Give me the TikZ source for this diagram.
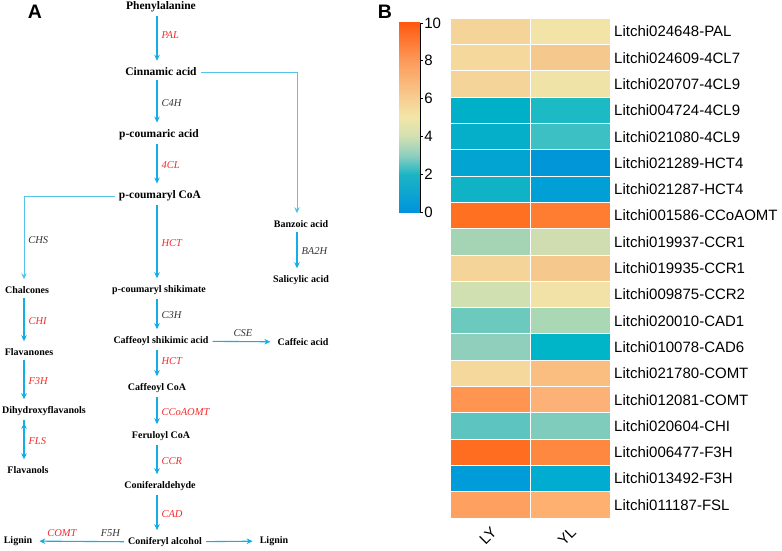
\documentclass[tikz,border=0pt]{standalone}
\usepackage{fontspec}
\setmainfont{Liberation Serif}
\newfontfamily\arialfont{Liberation Sans}
\usetikzlibrary{arrows.meta, calc}

\definecolor{flowblue}{HTML}{14AEE6}
\definecolor{branchblue}{HTML}{55C3EA}
\definecolor{enzred}{HTML}{F52A2A}
\definecolor{enzgray}{HTML}{333333}
% colour bar stops
\definecolor{hb0}{HTML}{0094DC}
\definecolor{hb2}{HTML}{1CB5C4}
\definecolor{hb3}{HTML}{8FCFC0}
\definecolor{hb4}{HTML}{D2E0B2}
\definecolor{hb5}{HTML}{F2E6A8}
\definecolor{hb6}{HTML}{F7CE92}
\definecolor{hb8}{HTML}{FC9A5A}
\definecolor{hb10}{HTML}{FF5A10}
\pgfdeclareverticalshading{heatbar}{100bp}{color(0bp)=(hb0); color(25bp)=(hb0);
  color(35bp)=(hb2); color(40bp)=(hb3); color(45bp)=(hb4); color(50bp)=(hb5);
  color(55bp)=(hb6); color(65bp)=(hb8); color(75bp)=(hb10); color(100bp)=(hb10)}

\begin{document}
\begin{tikzpicture}[x=1pt,y=-1pt,
  cpd/.style={font=\bfseries\fontsize{10}{11}\selectfont, inner sep=2pt},
  bigcpd/.style={cpd, font=\bfseries\fontsize{11.5}{12}\selectfont},
  enz/.style={font=\itshape\fontsize{10.5}{11}\selectfont, text=enzgray, inner sep=4pt},
  enzr/.style={enz, text=enzred},
  flow/.style={-{Stealth[length=6pt,width=5.5pt]}, draw=flowblue, line width=1.1pt, shorten >=5pt, shorten <=2pt},
  branch/.style={flow, draw=branchblue, line width=0.8pt},
  gene/.style={font=\arialfont\fontsize{15}{16}\selectfont, inner sep=2pt},
  panel/.style={font=\arialfont\bfseries\fontsize{19.5}{20}\selectfont}]
  \useasboundingbox (0,0) rectangle (782,551);

  % panel A: pathway
  \node[panel] (labA) at (35,12) {A};
  \coordinate (spine) at (157,0);
  \coordinate (fcol) at (24,0);
  \coordinate (bcol) at (297,0);
  \node[bigcpd] (phe) at (161,7) {Phenylalanine};
  \node[bigcpd] (cin) at (161,72) {Cinnamic acid};
  \node[bigcpd] (pcou) at (159,135) {p-coumaric acid};
  \node[bigcpd] (pcoa) at (160,196) {p-coumaryl CoA};
  \node[cpd] (ban) at (301,224) {Banzoic acid};
  \node[cpd] (sal) at (301,280) {Salicylic acid};
  \node[cpd] (chal) at (27,290) {Chalcones};
  \node[cpd] (pshik) at (159,290) {p-coumaryl shikimate};
  \node[cpd] (flavn) at (29,352) {Flavanones};
  \node[cpd] (dihyd) at (44,411) {Dihydroxyflavanols};
  \node[cpd] (flavl) at (28,470) {Flavanols};
  \node[cpd] (caffs) at (161,341) {Caffeoyl shikimic acid};
  \node[cpd] (caffa) at (303,342) {Caffeic acid};
  \node[cpd] (caffcoa) at (157,388) {Caffeoyl CoA};
  \node[cpd] (ferc) at (161,436) {Feruloyl CoA};
  \node[cpd] (conald) at (160,486) {Coniferaldehyde};
  \node[cpd] (conalc) at (165,542) {Coniferyl alcohol};
  \node[cpd] (lig1) at (18,541) {Lignin};
  \node[cpd] (lig2) at (274,541) {Lignin};

  \path[flow]
    (phe.south -| spine) edge node[enzr,right,pos=0.4] {PAL} (cin.north -| spine)
    (cin.south -| spine) edge node[enz,right] {C4H} (pcou.north -| spine)
    (pcou.south -| spine) edge node[enzr,right] {4CL} (pcoa.north -| spine)
    (pcoa.south -| spine) edge node[enzr,right] {HCT} (pshik.north -| spine)
    (pshik.south -| spine) edge node[enz,right] {C3H} (caffs.north -| spine)
    (caffs.south -| spine) edge node[enzr,right,pos=0.4] {HCT} (caffcoa.north -| spine)
    (caffcoa.south -| spine) edge node[enzr,right] {CCoAOMT} (ferc.north -| spine)
    (ferc.south -| spine) edge node[enzr,right] {CCR} (conald.north -| spine)
    (conald.south -| spine) edge node[enzr,right] {CAD} (conalc.north -| spine)
    (ban.south -| bcol) edge node[enz,right] {BA2H} (sal.north -| bcol)
    (chal.south -| fcol) edge node[enzr,right] {CHI} (flavn.north -| fcol)
    (flavn.south -| fcol) edge node[enzr,right] {F3H} (dihyd.north -| fcol)
    (dihyd.south -| fcol) edge node[enzr,right] {FLS} (flavl.north -| fcol)
    (caffs) edge node[enz,above] {CSE} (caffa)
    (conalc) edge node[enzr,above,pos=0.7] {COMT} node[enz,above,pos=0.17] {F5H} (lig1)
    (conalc) edge (lig2);
  \draw[branch] (cin.east) -| (ban.north -| bcol);
  \draw[branch] (pcoa.west) -| node[enz,right,pos=0.75] {CHS} (chal.north -| fcol);

  % panel B: heat map
  \node[panel] (labB) at (385,12) {B};
  \shade[shading=heatbar] (399,23) rectangle (420,212);
  \draw[line width=0.8pt] (420,23) -- (420,212);
  \foreach \v in {0,2,...,10}
    \draw[line width=0.8pt] (420,{212-18.9*\v}) -- ++(3,0) node[gene,right,inner sep=1pt] (tick\v) {\v};

  \foreach \gene/\cly/\cyl [count=\i] in {
      Litchi024648-PAL/F5D49A/F2E3A6,
      Litchi024609-4CL7/F5D99C/F5C98E,
      Litchi020707-4CL9/F5D49A/EFE3A8,
      Litchi004724-4CL9/00B0C8/1CBAC4,
      Litchi021080-4CL9/05AFC9/3DC0C4,
      Litchi021289-HCT4/02A5D2/0096D8,
      Litchi021287-HCT4/10B2C6/009FD6,
      Litchi001586-CCoAOMT/FF7020/FF7D30,
      Litchi019937-CCR1/A5D4B5/D0DDB0,
      Litchi019935-CCR1/F5D49A/F5C98E,
      Litchi009875-CCR2/D0E0B0/F2E2A8,
      Litchi020010-CAD1/6CC9BE/AAD8B5,
      Litchi010078-CAD6/90CFBC/00B5C8,
      Litchi021780-COMT/F5D89C/F9BE80,
      Litchi012081-COMT/FF9550/FCB277,
      Litchi020604-CHI/5EC4C0/80CCBC,
      Litchi006477-F3H/FF6E20/FF8840,
      Litchi013492-F3H/009CDA/00ACD0,
      Litchi011187-FSL/FEA060/FDB070}{
    \definecolor{cellly}{HTML}{\cly}
    \definecolor{cellyl}{HTML}{\cyl}
    \filldraw[fill=cellly, draw=white, line width=1pt] (450,{18.3+(\i-1)*26.3}) rectangle ++(80,26.3);
    \filldraw[fill=cellyl, draw=white, line width=1pt] (530,{18.3+(\i-1)*26.3}) rectangle ++(80,26.3);
    \node[gene,anchor=west] (g\i) at (612,{18.3+(\i-0.5)*26.3}) {\gene};
  }
  \node[gene,rotate=45] (ly) at (488,536) {LY};
  \node[gene,rotate=45] (yl) at (567,536) {YL};
\end{tikzpicture}
\end{document}
